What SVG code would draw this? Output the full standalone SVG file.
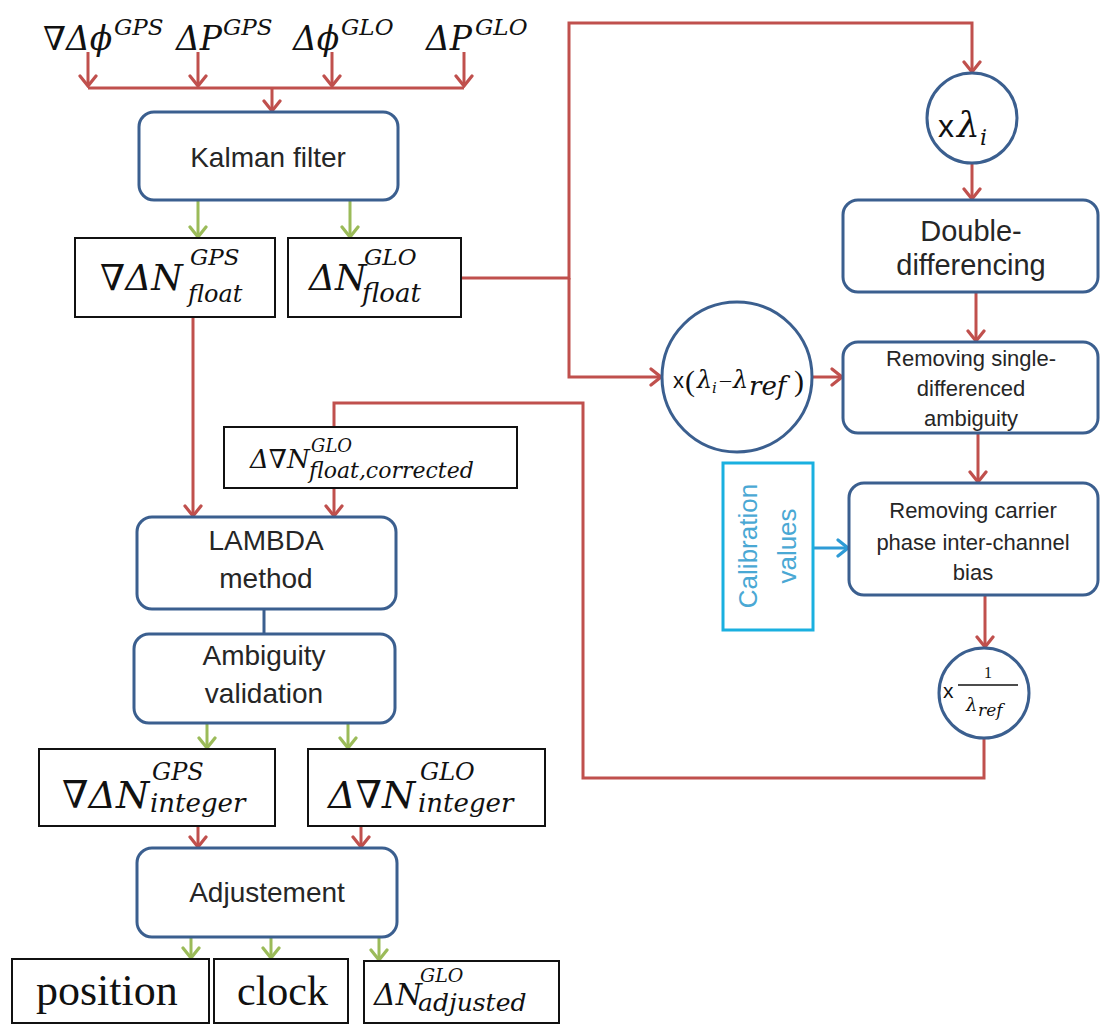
<svg xmlns="http://www.w3.org/2000/svg" width="1103" height="1025" viewBox="0 0 1103 1025">
<style>
.rn{fill:#fff;stroke:#3b5f8f;stroke-width:3}
.bx{fill:#fff;stroke:#111;stroke-width:2}
.t{font-family:"Liberation Sans",Arial,sans-serif;fill:#262626;text-anchor:middle}
.m{font-family:"DejaVu Serif","Liberation Serif",serif;font-style:italic;fill:#111}
.s{font-family:"Liberation Serif","DejaVu Serif",serif;fill:#111}
.x{font-family:"Liberation Sans",Arial,sans-serif;fill:#111}
.r{fill:none;stroke:#c0504d;stroke-width:3}
.g{fill:none;stroke:#9bbb59;stroke-width:3}
</style>
<defs>
<marker id="ar" viewBox="0 0 14 20" refX="12" refY="10" markerWidth="14" markerHeight="20" markerUnits="userSpaceOnUse" orient="auto">
<path d="M2,2 L12,10 L2,18" fill="none" stroke="#c0504d" stroke-width="3.2" stroke-linecap="round"/>
</marker>
<marker id="ag" viewBox="0 0 14 20" refX="12" refY="10" markerWidth="14" markerHeight="20" markerUnits="userSpaceOnUse" orient="auto">
<path d="M2,2 L12,10 L2,18" fill="none" stroke="#9bbb59" stroke-width="3.2" stroke-linecap="round"/>
</marker>
<marker id="ab" viewBox="0 0 14 20" refX="12" refY="10" markerWidth="14" markerHeight="20" markerUnits="userSpaceOnUse" orient="auto">
<path d="M2,2 L12,10 L2,18" fill="none" stroke="#2e9bd6" stroke-width="3.2" stroke-linecap="round"/>
</marker>
</defs>
<rect width="1103" height="1025" fill="#fff"/>

<g id="inputs">
<text class="m" x="43" y="50" font-size="33">∇Δϕ</text>
<text class="m" x="114" y="35" font-size="23">GPS</text>
<text class="m" x="176" y="50" font-size="33">ΔP</text>
<text class="m" x="223" y="35" font-size="23">GPS</text>
<text class="m" x="293" y="50" font-size="33">Δϕ</text>
<text class="m" x="341" y="35" font-size="23">GLO</text>
<text class="m" x="426" y="50" font-size="33">ΔP</text>
<text class="m" x="475" y="35" font-size="23">GLO</text>
</g>

<g id="connectors">
<path class="r" d="M88,52 V86" marker-end="url(#ar)"/>
<path class="r" d="M198,52 V86" marker-end="url(#ar)"/>
<path class="r" d="M332,52 V86" marker-end="url(#ar)"/>
<path class="r" d="M464,52 V86" marker-end="url(#ar)"/>
<path class="r" d="M88,88 H464"/>
<path class="r" d="M272,88 V111" marker-end="url(#ar)"/>
<path class="g" d="M198,201 V237" marker-end="url(#ag)"/>
<path class="g" d="M350,201 V237" marker-end="url(#ag)"/>
<path class="r" d="M461,278 H569 V23 H972 V72" marker-end="url(#ar)"/>
<path class="r" d="M569,278 V377 H661" marker-end="url(#ar)"/>
<path class="r" d="M972,163 V199" marker-end="url(#ar)"/>
<path class="r" d="M976,292 V341" marker-end="url(#ar)"/>
<path class="r" d="M812,377 H842" marker-end="url(#ar)"/>
<path class="r" d="M978,433 V482" marker-end="url(#ar)"/>
<path class="r" d="M985,595 V647" marker-end="url(#ar)"/>
<path class="r" d="M984,738 V778 H583 V403 H334 V427"/>
<path class="r" d="M334,488 V516" marker-end="url(#ar)"/>
<path class="r" d="M193,317 V516" marker-end="url(#ar)"/>
<path d="M264,609 V634" fill="none" stroke="#3b5f8f" stroke-width="3"/>
<path class="g" d="M207,724 V748" marker-end="url(#ag)"/>
<path class="g" d="M348,724 V748" marker-end="url(#ag)"/>
<path class="r" d="M198,826 V847" marker-end="url(#ar)"/>
<path class="r" d="M361,826 V847" marker-end="url(#ar)"/>
<path class="g" d="M191,938 V958" marker-end="url(#ag)"/>
<path class="g" d="M271,938 V958" marker-end="url(#ag)"/>
<path class="g" d="M379,938 V960" marker-end="url(#ag)"/>
<path d="M813,548 H848" fill="none" stroke="#2e9bd6" stroke-width="3" marker-end="url(#ab)"/>
</g>

<g id="kalman">
<rect class="rn" x="139" y="112" width="259" height="88" rx="15"/>
<text class="t" x="268" y="167" font-size="28">Kalman filter</text>
</g>

<g id="gps-float">
<rect class="bx" x="75" y="238" width="200" height="79"/>
<text class="m" x="100" y="290" font-size="36">∇ΔN</text>
<text class="m" x="190" y="265" font-size="23">GPS</text>
<text class="m" x="188" y="302" font-size="24">float</text>
</g>

<g id="glo-float">
<rect class="bx" x="288" y="238" width="173" height="79"/>
<text class="m" x="309" y="290" font-size="36">ΔN</text>
<text class="m" x="364" y="265" font-size="23">GLO</text>
<text class="m" x="362" y="302" font-size="26">float</text>
</g>

<g id="mul-lambda">
<circle class="rn" cx="972" cy="118" r="45"/>
<text class="x" x="938" y="137" font-size="32">x</text>
<text class="m" x="957" y="137" font-size="36">λ</text>
<text class="m" x="980" y="145" font-size="22">i</text>
</g>

<g id="double-diff">
<rect class="rn" x="843" y="200" width="255" height="92" rx="15"/>
<text class="t" x="971" y="241" font-size="29">Double-</text>
<text class="t" x="971" y="275" font-size="29">differencing</text>
</g>

<g id="mul-diff">
<circle class="rn" cx="737" cy="377" r="75"/>
<text class="x" x="673" y="388" font-size="22">x</text>
<text class="s" x="685" y="391" font-size="30">(</text>
<text class="m" x="697" y="388" font-size="24">λ</text>
<text class="m" x="712" y="393" font-size="15">i</text>
<text class="s" x="720" y="387" font-size="22">–</text>
<text class="m" x="733" y="388" font-size="24">λ</text>
<text class="m" x="749" y="395" font-size="26">ref</text>
<text class="s" x="794" y="391" font-size="30">)</text>
</g>

<g id="remove-sd">
<rect class="rn" x="843" y="342" width="255" height="91" rx="15"/>
<text class="t" x="971" y="366" font-size="22">Removing single-</text>
<text class="t" x="971" y="396" font-size="22">differenced</text>
<text class="t" x="971" y="426" font-size="22">ambiguity</text>
</g>

<g id="calibration">
<rect x="723" y="463" width="90" height="167" fill="#fff" stroke="#1ab0e0" stroke-width="3"/>
<text class="t" x="757" y="546" font-size="26" style="fill:#4aa8d4" transform="rotate(-90 757 546)">Calibration</text>
<text class="t" x="796" y="546" font-size="26" style="fill:#4aa8d4" transform="rotate(-90 796 546)">values</text>
</g>

<g id="remove-icb">
<rect class="rn" x="849" y="483" width="249" height="112" rx="15"/>
<text class="t" x="973" y="518" font-size="22">Removing carrier</text>
<text class="t" x="973" y="550" font-size="22">phase inter-channel</text>
<text class="t" x="973" y="580" font-size="22">bias</text>
</g>

<g id="mul-inv">
<circle class="rn" cx="984" cy="693" r="45"/>
<text class="x" x="943" y="698" font-size="21">x</text>
<text class="s" x="988" y="678" font-size="16" text-anchor="middle">1</text>
<line x1="958" y1="685" x2="1018" y2="685" stroke="#111" stroke-width="1.5"/>
<text class="m" x="966" y="711" font-size="18">λ</text>
<text class="m" x="978" y="716" font-size="17">ref</text>
</g>

<g id="glo-corrected">
<rect class="bx" x="224" y="427" width="293" height="61"/>
<text class="m" x="250" y="468" font-size="26">Δ∇N</text>
<text class="m" x="311" y="452" font-size="18">GLO</text>
<text class="m" x="309" y="478" font-size="22">float,corrected</text>
</g>

<g id="lambda">
<rect class="rn" x="137" y="517" width="259" height="92" rx="15"/>
<text class="t" x="266" y="550" font-size="28">LAMBDA</text>
<text class="t" x="266" y="588" font-size="28">method</text>
</g>

<g id="validation">
<rect class="rn" x="134" y="634" width="261" height="89" rx="15"/>
<text class="t" x="264" y="665" font-size="28">Ambiguity</text>
<text class="t" x="264" y="703" font-size="28">validation</text>
</g>

<g id="gps-integer">
<rect class="bx" x="39" y="749" width="236" height="77"/>
<text class="m" x="62" y="808" font-size="38">∇ΔN</text>
<text class="m" x="152" y="780" font-size="24">GPS</text>
<text class="m" x="150" y="812" font-size="26">integer</text>
</g>

<g id="glo-integer">
<rect class="bx" x="308" y="749" width="237" height="77"/>
<text class="m" x="328" y="808" font-size="38">Δ∇N</text>
<text class="m" x="420" y="780" font-size="24">GLO</text>
<text class="m" x="418" y="812" font-size="26">integer</text>
</g>

<g id="adjustment">
<rect class="rn" x="137" y="848" width="260" height="89" rx="15"/>
<text class="t" x="267" y="902" font-size="28">Adjustement</text>
</g>

<g id="position">
<rect class="bx" x="12" y="959" width="197" height="64"/>
<text class="s" x="36" y="1005" font-size="44">position</text>
</g>

<g id="clock">
<rect class="bx" x="214" y="959" width="134" height="64"/>
<text class="s" x="237" y="1005" font-size="42">clock</text>
</g>

<g id="glo-adjusted">
<rect class="bx" x="364" y="961" width="195" height="62"/>
<text class="m" x="374" y="1005" font-size="30">ΔN</text>
<text class="m" x="420" y="982" font-size="19">GLO</text>
<text class="m" x="418" y="1011" font-size="25">adjusted</text>
</g>
</svg>
